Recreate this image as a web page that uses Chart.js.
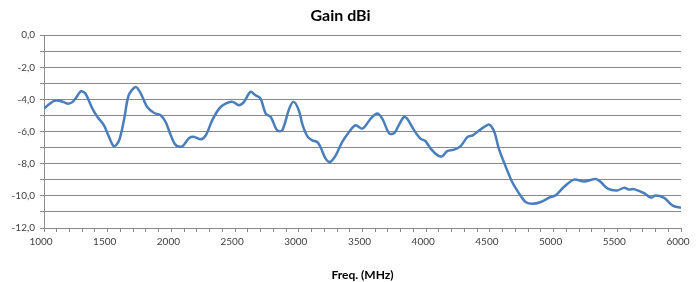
<!DOCTYPE html>
<html lang="en">
<head>
    <meta charset="UTF-8">
    <title>Gain dBi</title>
    <script src="https://cdn.jsdelivr.net/npm/chart.js"></script>
    <style>
        html, body { margin: 0; padding: 0; background: #fff; }
        .chart-container { width: 699px; height: 282px; }
    </style>
</head>
<body>
    <div class="chart-container"><canvas id="gainChart"></canvas></div>

    <script>
        // frequency (MHz) and gain (dBi)
        const freqMHz = [
            1000, 1040, 1080, 1130, 1185, 1225, 1260, 1290, 1325, 1380,
            1420, 1470, 1510, 1550, 1590, 1630, 1665, 1720, 1760, 1810,
            1865, 1915, 1955, 1995, 2035, 2085, 2140, 2180, 2230, 2270,
            2320, 2375, 2425, 2480, 2530, 2570, 2620, 2660, 2700, 2740,
            2780, 2830, 2870, 2925, 2960, 3000, 3030, 3070, 3105, 3145,
            3170, 3210, 3245, 3290, 3340, 3395, 3445, 3500, 3565, 3615,
            3655, 3710, 3750, 3785, 3825, 3850, 3905, 3955, 3995, 4035,
            4090, 4125, 4165, 4220, 4270, 4325, 4365, 4400, 4455, 4495,
            4535, 4570, 4625, 4675, 4730, 4780, 4835, 4900, 4965, 5015,
            5080, 5160, 5240, 5330, 5370, 5425, 5500, 5555, 5590, 5630,
            5710, 5765, 5800, 5865, 5935, 6000
        ];
        const gainDbi = [
            -4.57, -4.3, -4.09, -4.09, -4.26, -4.15, -3.8, -3.49, -3.63, -4.57,
            -5.09, -5.6, -6.33, -6.92, -6.54, -5.19, -3.74, -3.22, -3.63, -4.47,
            -4.84, -4.98, -5.4, -6.23, -6.85, -6.92, -6.4, -6.33, -6.48, -6.23,
            -5.3, -4.57, -4.26, -4.15, -4.36, -4.15, -3.53, -3.74, -3.95, -4.88,
            -5.09, -5.92, -5.92, -4.57, -4.15, -4.67, -5.6, -6.33, -6.54, -6.65,
            -6.96, -7.68, -7.89, -7.48, -6.65, -6.02, -5.6, -5.81, -5.19, -4.88,
            -5.19, -6.12, -6.09, -5.6, -5.09, -5.19, -5.92, -6.44, -6.6, -7.06,
            -7.48, -7.54, -7.21, -7.12, -6.9, -6.33, -6.23, -6.02, -5.71, -5.56,
            -6.02, -7.06, -8.2, -9.14, -9.86, -10.38, -10.49, -10.38, -10.11, -9.97,
            -9.45, -8.99, -9.1, -8.95, -9.14, -9.55, -9.66, -9.49, -9.61, -9.58,
            -9.83, -10.11, -9.97, -10.11, -10.61, -10.74
        ];
        const xLabelStep = 500;
        const yLabelStep = 2;

        const points = freqMHz.map((f, i) => ({ x: f, y: gainDbi[i] }));
        const gridColor = "#898989";
        const fontFamily = "Lato, 'Open Sans', sans-serif";

        new Chart(document.getElementById("gainChart").getContext("2d"), {
            type: "line",
            data: {
                datasets: [{
                    label: "Gain dBi",
                    data: points,
                    borderColor: "#4a7ebb",
                    borderWidth: 2.5,
                    pointRadius: 0,
                    tension: 0.3,
                    fill: false
                }]
            },
            options: {
                responsive: true,
                maintainAspectRatio: false,
                animation: false,
                layout: { padding: { left: 0, right: 18, top: 0, bottom: 0 } },
                plugins: {
                    legend: { display: false },
                    tooltip: { enabled: false },
                    title: {
                        display: true,
                        text: "Gain dBi",
                        color: "#000",
                        font: { family: fontFamily, size: 16, weight: "bold" },
                        padding: { top: 6, bottom: 10 }
                    }
                },
                scales: {
                    x: {
                        type: "linear",
                        min: 1000,
                        max: 6000,
                        afterFit: s => { s.height = 54; },
                        border: { display: true, color: gridColor, width: 1 },
                        grid: { drawOnChartArea: false, drawTicks: true, tickLength: 4, color: gridColor },
                        ticks: {
                            stepSize: 100,
                            autoSkip: false,
                            maxRotation: 0,
                            padding: 4,
                            labelOffset: -3,
                            color: "#404040",
                            font: { family: fontFamily, size: 10 },
                            callback: v => (v % xLabelStep === 0 ? String(v) : "")
                        },
                        title: {
                            display: true,
                            text: "Freq. (MHz)",
                            color: "#000",
                            font: { family: fontFamily, size: 12, weight: "bold" },
                            padding: { top: 5, bottom: 0 }
                        }
                    },
                    y: {
                        min: -12,
                        max: 0,
                        afterFit: s => { s.width = 44; },
                        border: { display: true, color: gridColor, width: 1 },
                        grid: { drawOnChartArea: true, drawTicks: true, tickLength: 4, color: gridColor },
                        ticks: {
                            stepSize: 1,
                            autoSkip: false,
                            padding: 5,
                            color: "#404040",
                            font: { family: fontFamily, size: 10 },
                            callback: v => (v % yLabelStep === 0 ? v.toFixed(1).replace(".", ",") : "")
                        }
                    }
                }
            }
        });
    </script>
</body>
</html>
